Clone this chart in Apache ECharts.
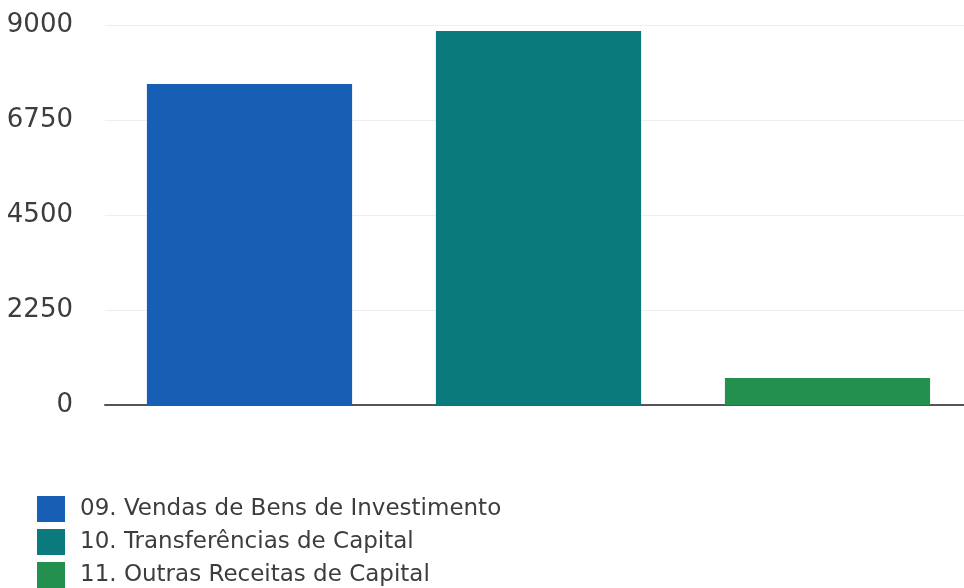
<!DOCTYPE html>
<html>
<head>
<meta charset="utf-8">
<script src="https://cdn.jsdelivr.net/npm/echarts@6/dist/echarts.min.js"></script>
<style>html,body{margin:0;padding:0;background:#fff;overflow:hidden}#c{width:972px;height:588px}</style>
</head>
<body>
<div id="c"></div>
<script>
const categories = ['09. Vendas de Bens de Investimento', '10. Transferências de Capital', '11. Outras Receitas de Capital'];
const values = [7600, 8860, 640];
const colors = ['#165fb4', '#0b7a7d', '#23904f'];
const yTicks = [0, 2250, 4500, 6750, 9000];

const series = categories.map((name, i) => ({
  name: name,
  type: 'bar',
  stack: 'all',
  barCategoryGap: '29%',
  itemStyle: { color: colors[i] },
  data: categories.map((c, j) => j === i ? values[i] : '-')
}));

const chart = echarts.init(document.getElementById('c'));
chart.setOption({
  animation: false,
  textStyle: { fontFamily: '"DejaVu Sans", sans-serif' },
  grid: { left: 105, right: 0, top: 25, bottom: 183 },
  legend: {
    orient: 'vertical', left: 37, top: 496, bottom: 0, padding: 0,
    itemWidth: 28, itemHeight: 26, itemGap: 7,
    icon: 'rect',
    textStyle: { fontSize: 23, color: '#3d3d3d', padding: [0, 0, 0, 10] },
    data: categories
  },
  xAxis: {
    type: 'category', data: categories,
    axisLine: { lineStyle: { color: '#555', width: 2 } },
    axisTick: { show: false }, axisLabel: { show: false }
  },
  yAxis: {
    type: 'value', min: yTicks[0], max: yTicks[yTicks.length - 1], interval: 2250,
    axisLine: { show: false }, axisTick: { show: false },
    axisLabel: { fontSize: 26, color: '#3d3d3d', margin: 32, formatter: v => String(v) },
    splitLine: { lineStyle: { color: '#eeeeee' } }
  },
  series: series
});
</script>
</body>
</html>
